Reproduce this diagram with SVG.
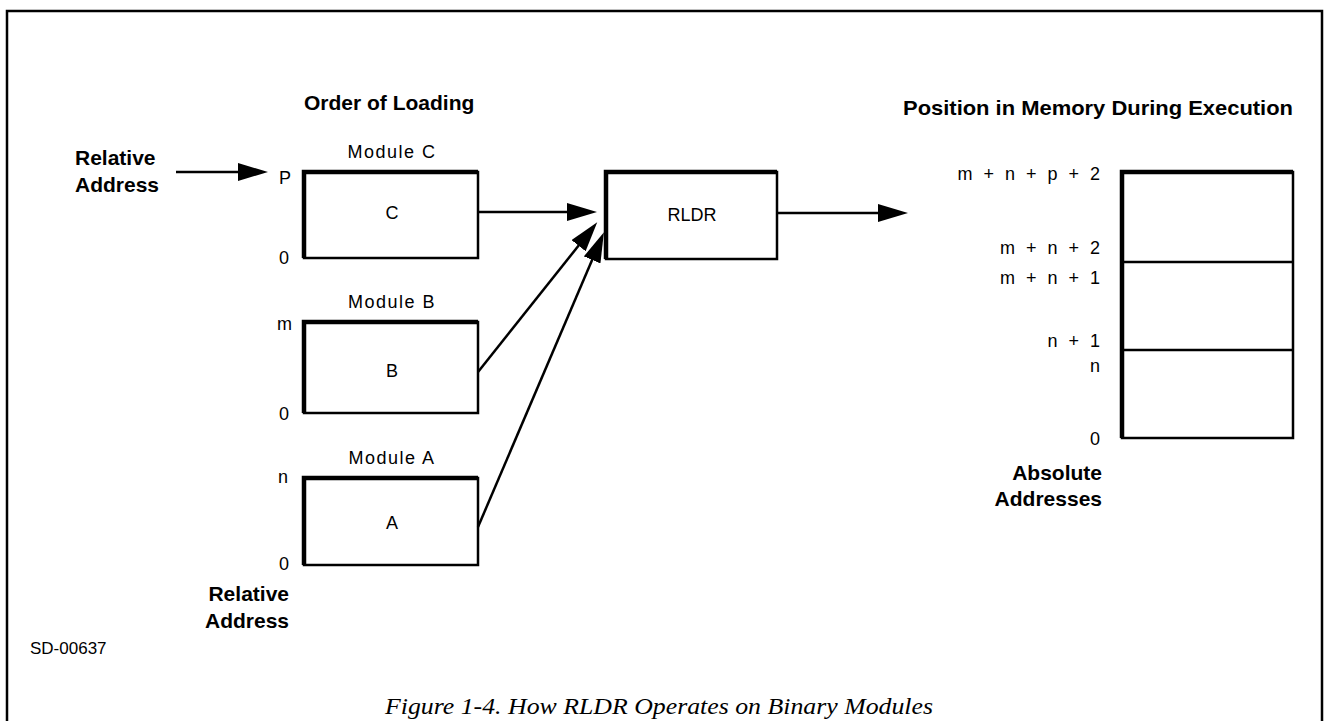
<svg xmlns="http://www.w3.org/2000/svg" width="1326" height="721" viewBox="0 0 1326 721">
<defs>
<marker id="ah" viewBox="0 0 30 18" refX="20" refY="9" markerWidth="30" markerHeight="18" markerUnits="userSpaceOnUse" orient="auto">
<path d="M0,0 L30,9 L0,18 Z" fill="#000"/>
</marker>
<style>
.reg{font-family:"Liberation Sans",Arial,sans-serif;font-size:18px;fill:#000}
.mod{font-family:"Liberation Sans",Arial,sans-serif;font-size:18px;fill:#000;letter-spacing:1.5px}
.bold{font-family:"Liberation Sans",Arial,sans-serif;font-size:21px;font-weight:bold;fill:#000}
.addr{font-family:"Liberation Sans",Arial,sans-serif;font-size:18px;fill:#000;letter-spacing:3px}
.cap{font-family:"Liberation Serif","Times New Roman",serif;font-size:23px;font-style:italic;fill:#000}
.box{fill:#fff;stroke:#000;stroke-width:2.5}
.thick{fill:none;stroke:#000;stroke-width:4.5;stroke-linejoin:miter}
.conn{stroke:#000;stroke-width:2.5;fill:none}
</style>
</defs>
<rect width="1326" height="721" fill="#fff"/>
<path d="M7,721 V11 H1322 V721" fill="none" stroke="#000" stroke-width="2.5"/>

<text class="bold" x="304" y="110">Order of Loading</text>
<text class="bold" x="903" y="115" textLength="390" lengthAdjust="spacingAndGlyphs">Position in Memory During Execution</text>

<g id="rel-top">
<text class="bold" x="75" y="165">Relative</text>
<text class="bold" x="75" y="192">Address</text>
</g>

<g id="moduleC">
<text class="mod" x="392" y="158" text-anchor="middle">Module C</text>
<rect class="box" x="304" y="172" width="174" height="86"/>
<path class="thick" d="M304,258 V172 H478"/>
<text class="reg" x="392" y="219" text-anchor="middle">C</text>
<text class="reg" x="279" y="184">P</text>
<text class="reg" x="279" y="264">0</text>
</g>

<g id="moduleB">
<text class="mod" x="392" y="308" text-anchor="middle">Module B</text>
<rect class="box" x="304" y="322" width="174" height="91"/>
<path class="thick" d="M304,413 V322 H478"/>
<text class="reg" x="392" y="377" text-anchor="middle">B</text>
<text class="reg" x="277" y="330">m</text>
<text class="reg" x="279" y="420">0</text>
</g>

<g id="moduleA">
<text class="mod" x="392" y="464" text-anchor="middle">Module A</text>
<rect class="box" x="304" y="478" width="174" height="87"/>
<path class="thick" d="M304,565 V478 H478"/>
<text class="reg" x="392" y="529" text-anchor="middle">A</text>
<text class="reg" x="278" y="483">n</text>
<text class="reg" x="279" y="570">0</text>
</g>

<g id="rel-bottom">
<text class="bold" x="289" y="601" text-anchor="end">Relative</text>
<text class="bold" x="289" y="628" text-anchor="end">Address</text>
</g>

<g id="rldr">
<rect class="box" x="606" y="172" width="171" height="87"/>
<path class="thick" d="M606,259 V172 H777"/>
<text class="reg" x="692" y="221" text-anchor="middle">RLDR</text>
</g>

<g id="memory">
<rect class="box" x="1122" y="172" width="171" height="266"/>
<path class="thick" d="M1122,438 V172 H1293"/>
<line class="conn" x1="1122" y1="262" x2="1293" y2="262"/>
<line class="conn" x1="1122" y1="350" x2="1293" y2="350"/>
<g text-anchor="end">
<text class="addr" x="1103" y="180">m + n + p + 2</text>
<text class="addr" x="1103" y="254">m + n + 2</text>
<text class="addr" x="1103" y="284">m + n + 1</text>
<text class="addr" x="1103" y="347">n + 1</text>
<text class="addr" x="1103" y="372">n</text>
<text class="addr" x="1103" y="445">0</text>
</g>
<text class="bold" x="1102" y="480" text-anchor="end">Absolute</text>
<text class="bold" x="1102" y="506" text-anchor="end">Addresses</text>
</g>

<g id="connectors">
<line class="conn" x1="176" y1="172" x2="258" y2="172" marker-end="url(#ah)"/>
<line class="conn" x1="478" y1="212" x2="587" y2="212" marker-end="url(#ah)"/>
<line class="conn" x1="478" y1="372" x2="591" y2="230" marker-end="url(#ah)"/>
<line class="conn" x1="478" y1="527" x2="600" y2="241.5" marker-end="url(#ah)"/>
<line class="conn" x1="777" y1="213" x2="898" y2="213" marker-end="url(#ah)"/>
</g>

<text class="reg" x="30" y="654" style="font-size:17px">SD-00637</text>
<text class="cap" x="385" y="714" textLength="548" lengthAdjust="spacingAndGlyphs">Figure 1-4. How RLDR Operates on Binary Modules</text>
</svg>
